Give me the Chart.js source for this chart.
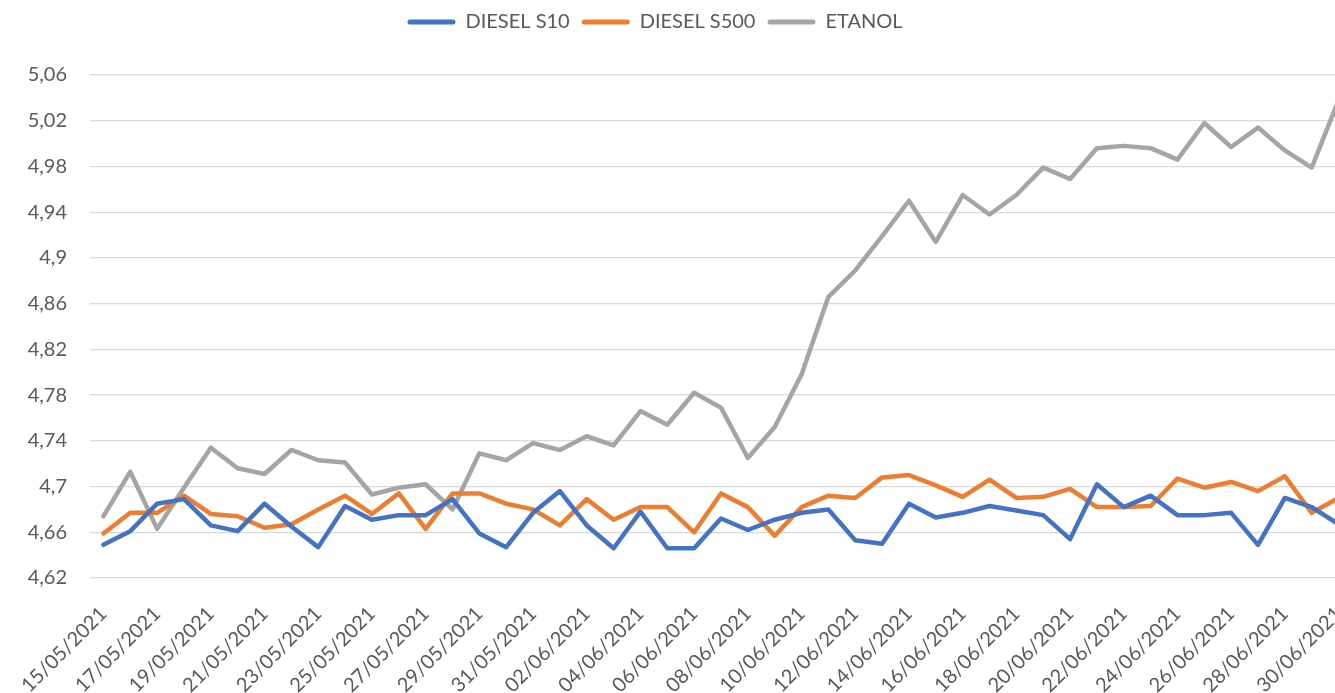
<!DOCTYPE html>
<html>
<head>
<meta charset="utf-8">
<script src="https://cdn.jsdelivr.net/npm/chart.js@4/dist/chart.umd.min.js"></script>
<style>
  html, body { margin: 0; padding: 0; background: #fff; overflow: hidden; }
  #wrap { width: 1352px; height: 693px; }
</style>
</head>
<body>
<div id="wrap"><canvas id="chart"></canvas></div>
<script>
// categorias (dias)
const dates = [
  '15/05/2021','16/05/2021','17/05/2021','18/05/2021','19/05/2021','20/05/2021','21/05/2021','22/05/2021',
  '23/05/2021','24/05/2021','25/05/2021','26/05/2021','27/05/2021','28/05/2021','29/05/2021','30/05/2021',
  '31/05/2021','01/06/2021','02/06/2021','03/06/2021','04/06/2021','05/06/2021','06/06/2021','07/06/2021',
  '08/06/2021','09/06/2021','10/06/2021','11/06/2021','12/06/2021','13/06/2021','14/06/2021','15/06/2021',
  '16/06/2021','17/06/2021','18/06/2021','19/06/2021','20/06/2021','21/06/2021','22/06/2021','23/06/2021',
  '24/06/2021','25/06/2021','26/06/2021','27/06/2021','28/06/2021','29/06/2021','30/06/2021'
];

const dieselS10 = [
  4.649, 4.661, 4.685, 4.689, 4.666, 4.661, 4.685, 4.665, 4.647, 4.683, 4.671, 4.675,
  4.675, 4.689, 4.659, 4.647, 4.677, 4.696, 4.666, 4.646, 4.678, 4.646, 4.646, 4.672,
  4.662, 4.671, 4.677, 4.680, 4.653, 4.650, 4.685, 4.673, 4.677, 4.683, 4.679, 4.675,
  4.654, 4.702, 4.682, 4.692, 4.675, 4.675, 4.677, 4.649, 4.690, 4.682, 4.667
];

const dieselS500 = [
  4.659, 4.677, 4.677, 4.692, 4.676, 4.674, 4.664, 4.667, 4.680, 4.692, 4.676, 4.694,
  4.663, 4.694, 4.694, 4.685, 4.680, 4.666, 4.689, 4.671, 4.682, 4.682, 4.660, 4.694,
  4.682, 4.657, 4.682, 4.692, 4.690, 4.708, 4.710, 4.701, 4.691, 4.706, 4.690, 4.691,
  4.698, 4.682, 4.682, 4.683, 4.707, 4.699, 4.704, 4.696, 4.709, 4.677, 4.690
];

const etanol = [
  4.674, 4.713, 4.663, 4.699, 4.734, 4.716, 4.711, 4.732, 4.723, 4.721, 4.693, 4.699,
  4.702, 4.680, 4.729, 4.723, 4.738, 4.732, 4.744, 4.736, 4.766, 4.754, 4.782, 4.769,
  4.725, 4.752, 4.798, 4.866, 4.889, 4.919, 4.950, 4.914, 4.955, 4.938, 4.955, 4.979,
  4.969, 4.996, 4.998, 4.996, 4.986, 5.018, 4.997, 5.014, 4.994, 4.979, 5.038
];

const yMin = 4.62, yMax = 5.06, yStep = 0.04;

const textColor = '#595959';
const gridColor = '#d9d9d9';
const fontFamily = 'Lato, "Noto Sans", sans-serif';

function serie(label, data, color) {
  return {
    label: label,
    data: data,
    borderColor: color,
    backgroundColor: color,
    borderWidth: 4.5,
    pointRadius: 0,
    pointHoverRadius: 0,
    tension: 0,
    borderJoinStyle: 'round',
    borderCapStyle: 'round',
    fill: false
  };
}

// legenda: altura fixa e centro deslocado como no original
const legendaPlugin = {
  id: 'legendaAjuste',
  beforeInit(chart) {
    const fitOrig = chart.legend.fit;
    chart.legend.fit = function () {
      fitOrig.call(this);
      this.height = 75;
    };
  },
  afterLayout(chart) {
    chart.legend.right -= 42;
  }
};

const ctx = document.getElementById('chart').getContext('2d');
new Chart(ctx, {
  type: 'line',
  data: {
    labels: dates,
    datasets: [
      serie('DIESEL S10', dieselS10, '#4472c4'),
      serie('DIESEL S500', dieselS500, '#ed7d31'),
      serie('ETANOL', etanol, '#a5a5a5')
    ]
  },
  options: {
    responsive: true,
    maintainAspectRatio: false,
    animation: false,
    layout: { padding: 0 },
    plugins: {
      legend: {
        position: 'top',
        labels: {
          color: textColor,
          font: { family: fontFamily, size: 20 },
          boxWidth: 48,
          boxHeight: 5,
          padding: 12,
          useBorderRadius: true,
          borderRadius: 2.5,
          generateLabels(chart) {
            const items = Chart.defaults.plugins.legend.labels.generateLabels(chart);
            items.forEach(it => { it.lineWidth = 0; it.fillStyle = it.strokeStyle; });
            return items;
          }
        }
      },
      tooltip: { enabled: false }
    },
    scales: {
      x: {
        offset: true,
        grid: { display: false },
        border: { display: false },
        afterFit(scale) {
          scale.height = 115;
          scale.paddingLeft = 0;
          scale.paddingRight = 0;
        },
        ticks: {
          autoSkip: false,
          maxRotation: 45,
          minRotation: 45,
          padding: 16,
          color: textColor,
          font: { family: fontFamily, size: 20 },
          callback(value, index) {
            return index % 2 === 0 ? dates[index] : '';
          }
        }
      },
      y: {
        min: yMin,
        max: yMax,
        grid: { color: gridColor, lineWidth: 1.3, drawTicks: false },
        border: { display: false },
        afterFit(scale) { scale.width = 90; },
        ticks: {
          stepSize: yStep,
          padding: 23,
          color: textColor,
          font: { family: fontFamily, size: 20 },
          callback(value) {
            return parseFloat(value.toFixed(2)).toString().replace('.', ',');
          }
        }
      }
    }
  },
  plugins: [legendaPlugin]
});
</script>
</body>
</html>
